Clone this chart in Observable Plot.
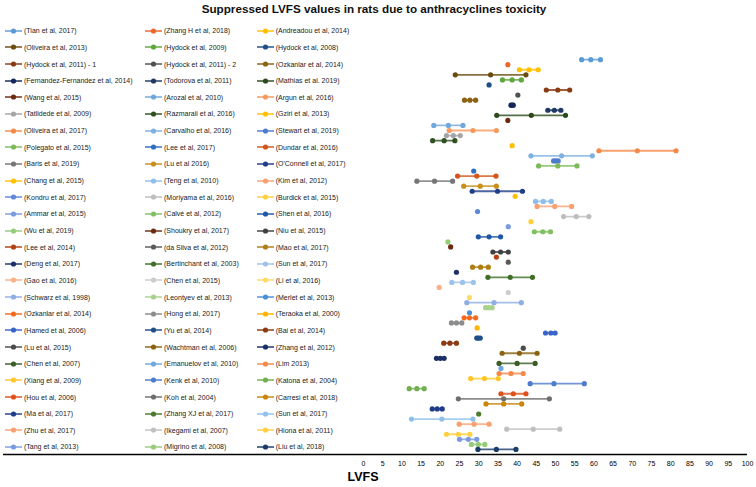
<!DOCTYPE html>
<html>
<head>
<meta charset="utf-8">
<script src="https://cdn.jsdelivr.net/npm/d3@7"></script>
<script src="https://cdn.jsdelivr.net/npm/@observablehq/plot@0.6"></script>
<style>
  html, body { margin: 0; padding: 0; background: #fff; }
  #wrap { position: relative; width: 756px; height: 487px; font-family: "Liberation Sans", Arial, sans-serif; }
  #title { position: absolute; left: 0; top: 0; width: 748px; height: 18px; line-height: 18px; text-align: center; font-weight: bold; font-size: 11.7px; color: #111; }
  #chart { position: absolute; left: 0; top: 18px; }
  #legend { position: absolute; left: 0; top: 0; width: 370px; height: 460px; }
  .item { position: absolute; height: 10px; display: flex; align-items: center; white-space: nowrap; font-size: 7px; color: #222; }
  .item svg { display: block; margin-right: 2px; }
</style>
</head>
<body>
<div id="wrap">
  <div id="title">Suppressed LVFS values in rats due to anthracyclines toxicity</div>
  <div id="chart"></div>
  <div id="legend"></div>
</div>
<script>
const studies = [
  "(Tian et al, 2017)", "(Zhang H et al, 2018)", "(Andreadou et al, 2014)",
  "(Oliveira et al, 2013)", "(Hydock et al, 2009)", "(Hydock et al, 2008)",
  "(Hydock et al, 2011) - 1", "(Hydock et al, 2011) - 2", "(Ozkanlar et al, 2014)",
  "(Fernandez-Fernandez et al, 2014)", "(Todorova et al, 2011)", "(Mathias et al. 2019)",
  "(Wang et al, 2015)", "(Arozal et al, 2010)", "(Argun et al, 2016)",
  "(Tatlidede et al, 2009)", "(Razmaraii et al, 2016)", "(Gziri et al, 2013)",
  "(Oliveira et al, 2017)", "(Carvalho et al, 2016)", "(Stewart et al, 2019)",
  "(Polegato et al, 2015)", "(Lee et al, 2017)", "(Dundar et al, 2016)",
  "(Baris et al, 2019)", "(Lu et al 2016)", "(O'Connell et al, 2017)",
  "(Chang et al, 2015)", "(Teng et al, 2010)", "(Kim et al, 2012)",
  "(Kondru et al, 2017)", "(Moriyama et al, 2016)", "(Burdick et al, 2015)",
  "(Ammar et al, 2015)", "(Calvé et al, 2012)", "(Shen et al, 2016)",
  "(Wu et al, 2019)", "(Shoukry et al, 2017)", "(Niu et al, 2015)",
  "(Lee et al, 2014)", "(da Silva et al, 2012)", "(Mao et al, 2017)",
  "(Deng et al, 2017)", "(Bertinchant et al, 2003)", "(Sun et al, 2017)",
  "(Gao et al, 2016)", "(Chen et al, 2015)", "(Li et al, 2016)",
  "(Schwarz et al, 1998)", "(Leontyev et al, 2013)", "(Merlet et al, 2013)",
  "(Ozkanlar et al, 2014)", "(Hong et al, 2017)", "(Teraoka et al, 2000)",
  "(Hamed et al, 2006)", "(Yu et al, 2014)", "(Bai et al, 2014)",
  "(Lu et al, 2015)", "(Wachtman et al, 2006)", "(Zhang et al, 2012)",
  "(Chen et al, 2007)", "(Emanuelov et al, 2010)", "(Lim 2013)",
  "(Xiang et al, 2009)", "(Kenk et al, 2010)", "(Katona et al, 2004)",
  "(Hou et al, 2006)", "(Koh et al, 2004)", "(Carresi et al, 2018)",
  "(Ma et al, 2017)", "(Zhang XJ et al, 2017)", "(Sun et al, 2017)",
  "(Zhu et al, 2017)", "(Ikegami et al, 2007)", "(Hiona et al, 2011)",
  "(Tang et al, 2013)", "(Migrino et al, 2008)", "(Liu et al, 2018)"
];

const colors = [
  "#5B9BD5", "#F0652A", "#FFC000",
  "#6B4C10", "#5FA63B", "#1F4E89",
  "#8A3A12", "#505050", "#8C6212",
  "#14275A", "#203864", "#2D4A1C",
  "#6B2A0F", "#6FA8DC", "#F79A5E",
  "#A5A5A5", "#2F5020", "#FFC000",
  "#F4894A", "#7EB1E3", "#4F7BCF",
  "#7DBB5A", "#2E6FC4", "#D4541A",
  "#767676", "#C8901A", "#203F8A",
  "#FFC000", "#8DBFEA", "#F9A070",
  "#6088D8", "#BDBDBD", "#FFD040",
  "#7A9BE0", "#80C060", "#2058A8",
  "#94CC78", "#6B2A0F", "#404040",
  "#B5400F", "#5A5A5A", "#B07D10",
  "#1C3268", "#3F6F26", "#9DC3EC",
  "#FBB08A", "#CCCCCC", "#FFD966",
  "#8FAEE6", "#A9D18E", "#4A8FD9",
  "#F46A1E", "#8C8C8C", "#FFB400",
  "#3B64C8", "#1F4E89", "#8B3A12",
  "#4A4A4A", "#8B6310", "#1A2F66",
  "#3B5E26", "#6FA8DC", "#F4894A",
  "#FFC52A", "#4F7BCF", "#70B050",
  "#E0501A", "#6E6E6E", "#C8860A",
  "#1F3C8A", "#4A7A2A", "#8FC0EC",
  "#F9A070", "#C0C0C0", "#FFD040",
  "#7A9BE0", "#94CC78", "#1A3A6A"
];

// LVFS values: lower, middle, upper (null where only one point is shown)
const low = [
  56.8, null, 40.6, 23.9, 36.2, null, 47.6, null, 26.3, 38.4, 48.0, 34.7,
  null, 18.3, 22.3, 21.6, 18.0, null, 61.3, 43.6, 49.5, 45.6, null, 24.5,
  13.9, 26.1, 28.3, null, 44.8, 45.2, null, 52.1, null, null, 44.5, 29.9,
  null, null, 33.7, null, null, 28.4, null, 32.4, 23.0, null, null, null,
  26.9, 31.8, null, 26.2, 22.9, null, 47.4, 29.5, 20.9, null, 36.1, 19.0,
  35.3, null, 35.3, 27.9, 43.4, 11.9, 35.8, 24.7, 31.9, 17.9, null, 12.5,
  24.9, 37.3, 21.6, 25.0, 28.1, 29.8
];
const mid = [
  59.2, 37.6, 43.1, 33.1, 38.7, 32.7, 50.6, 40.2, 27.7, 38.7, 49.7, 43.7,
  37.6, 22.1, 28.5, 23.4, 21.0, 38.7, 71.3, 51.6, 50.1, 50.6, 28.7, 29.5,
  18.5, 30.4, 34.9, 39.5, 46.8, 49.8, 29.7, 55.4, 43.6, 37.7, 46.7, 32.7,
  22.0, 22.7, 35.7, 34.6, 37.7, 30.5, 24.2, 38.2, 25.8, 19.7, 37.7, 27.6,
  34.0, 32.6, 27.6, 27.6, 24.2, 29.6, 48.8, 29.9, 22.5, 41.6, 40.6, 20.0,
  40.0, 35.8, 38.4, 31.5, 49.6, 13.9, 39.0, 36.5, 36.5, 19.2, 30.0, 20.4,
  28.8, 44.2, 24.7, 27.3, 29.9, 34.6
];
const high = [
  61.7, null, 45.5, 42.3, 41.1, null, 53.7, null, 29.2, 39.0, 51.4, 52.6,
  null, 25.9, 34.6, 25.2, 23.8, null, 81.4, 59.6, 50.7, 55.6, null, 34.5,
  23.2, 34.6, 41.4, null, 48.9, 54.2, null, 58.7, null, null, 48.7, 35.7,
  null, null, 37.7, null, null, 32.5, null, 44.0, 28.6, null, null, null,
  41.1, 33.5, null, 29.2, 25.6, null, 49.9, 30.4, 24.2, null, 45.2, 21.0,
  44.7, null, 41.6, 35.1, 57.5, 15.8, 42.3, 48.4, 41.2, 20.5, null, 28.5,
  32.7, 51.1, 27.7, 29.5, 31.6, 39.7
];

const xTicks = d3.range(0, 101, 5);

// Build point table: row position counts from the bottom (last study = 1)
const n = studies.length;
const points = [];
studies.forEach((s, i) => {
  [low[i], mid[i], high[i]].forEach(v => {
    if (v != null) points.push({study: i, row: n - i, v, color: colors[i]});
  });
});

const chart = Plot.plot({
  width: 756,
  height: 469,
  marginLeft: 3,
  marginRight: 9,
  marginTop: 31,
  marginBottom: 33,
  style: {fontFamily: "Liberation Sans, Arial, sans-serif", color: "#000", background: "transparent"},
  x: {domain: [-93.75, 100]},
  y: {domain: [0, 80], axis: null},
  color: {type: "identity"},
  marks: [
    Plot.line(points, {x: "v", y: "row", z: "study", stroke: "color", strokeWidth: 1.8, strokeOpacity: 0.8}),
    Plot.dot(points, {x: "v", y: "row", fill: "color", r: 2.6}),
    Plot.ruleY([0], {stroke: "#000", strokeWidth: 1.6}),
    Plot.axisX(xTicks, {tickSize: 0, tickPadding: 7, fontSize: 7, label: null}),
    Plot.text(["LVFS"], {text: d => d, frameAnchor: "bottom", lineAnchor: "middle", dx: -12.5, dy: 22.7, fontWeight: "bold", fontSize: 12.5})
  ]
});
document.getElementById("chart").appendChild(chart);

// Legend: 3 columns, read row by row
const colX = [5, 145, 256.7];
const legend = d3.select("#legend");
studies.forEach((s, i) => {
  const r = Math.floor(i / 3), c = i % 3;
  const yc = 30.7 + 16.65 * r;
  const item = legend.append("div").attr("class", "item")
    .style("left", colX[c] + "px").style("top", (yc - 5) + "px");
  const sv = item.append("svg").attr("width", 17).attr("height", 10);
  sv.append("line").attr("x1", 0).attr("x2", 17).attr("y1", 5).attr("y2", 5)
    .attr("stroke", colors[i]).attr("stroke-width", 1.8).attr("stroke-opacity", 0.8);
  sv.append("circle").attr("cx", 8.5).attr("cy", 5).attr("r", 2.6).attr("fill", colors[i]);
  item.append("span").text(s);
});
</script>
</body>
</html>
